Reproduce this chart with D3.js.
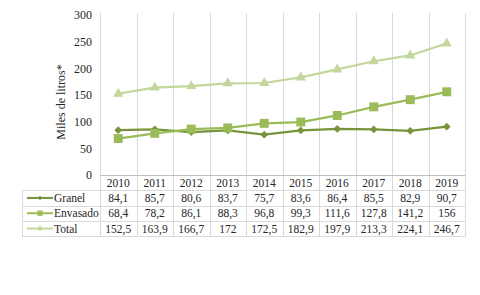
<!DOCTYPE html>
<html>
<head>
<meta charset="utf-8">
<script src="https://cdn.jsdelivr.net/npm/d3@7"></script>
<style>
  body { margin: 0; background: #fff; }
</style>
</head>
<body>
<div id="chart"></div>
<script>
const years = ["2010", "2011", "2012", "2013", "2014", "2015", "2016", "2017", "2018", "2019"];
const granel = [84.1, 85.7, 80.6, 83.7, 75.7, 83.6, 86.4, 85.5, 82.9, 90.7];
const envasado = [68.4, 78.2, 86.1, 88.3, 96.8, 99.3, 111.6, 127.8, 141.2, 156];
const total = [152.5, 163.9, 166.7, 172, 172.5, 182.9, 197.9, 213.3, 224.1, 246.7];
const yTicks = [0, 50, 100, 150, 200, 250, 300];

const width = 480, height = 295;
const plot = { left: 100, right: 465, top: 15, bottom: 175 };
const table = { left: 22, rowH: 15.3 };
const serif = "Liberation Serif";

const series = [
    { name: "Granel", values: granel, color: "#77933c", symbol: d3.symbolSquare, size: 30, rotate: 45 },
    { name: "Envasado", values: envasado, color: "#9bbb59", symbol: d3.symbolSquare, size: 80, rotate: 0 },
    { name: "Total", values: total, color: "#c3d69b", symbol: d3.symbolTriangle, size: 46, rotate: 0 }
];

const svg = d3.select("#chart")
    .append("svg")
    .attr("width", width)
    .attr("height", height)
    .style("display", "block");

const x = d3.scaleBand()
    .domain(years)
    .range([plot.left, plot.right])
    .padding(0);

const y = d3.scaleLinear()
    .domain([0, 300])
    .range([plot.bottom, plot.top]);

const tableBottom = plot.bottom + table.rowH * 4;
const gridColor = "#d9d9d9";

// Vertical gridlines through plot and table
const bounds = years.map(d => x(d)).concat([plot.right]);
svg.selectAll(".vgrid")
    .data(bounds)
    .join("line")
    .attr("class", "vgrid")
    .attr("x1", d => Math.round(d) + 0.5)
    .attr("x2", d => Math.round(d) + 0.5)
    .attr("y1", plot.top - 2)
    .attr("y2", tableBottom)
    .attr("stroke", gridColor)
    .attr("stroke-width", 1);

// Table horizontal lines
const rowLines = [0, 1, 2, 3, 4].map(i => plot.bottom + i * table.rowH);
svg.selectAll(".hline")
    .data(rowLines)
    .join("line")
    .attr("class", "hline")
    .attr("x1", (d, i) => i === 0 ? plot.left : table.left)
    .attr("x2", plot.right)
    .attr("y1", d => Math.round(d) + 0.5)
    .attr("y2", d => Math.round(d) + 0.5)
    .attr("stroke", (d, i) => i === 0 ? "#bfbfbf" : gridColor);

svg.append("line")
    .attr("x1", table.left + 0.5)
    .attr("x2", table.left + 0.5)
    .attr("y1", plot.bottom + table.rowH)
    .attr("y2", tableBottom)
    .attr("stroke", gridColor);

// Y axis labels
svg.selectAll(".ytick")
    .data(yTicks)
    .join("text")
    .attr("class", "ytick")
    .attr("x", plot.left - 8)
    .attr("y", d => y(d))
    .attr("dy", "0.35em")
    .attr("text-anchor", "end")
    .attr("font-family", serif)
    .attr("font-size", 12)
    .attr("fill", "#262626")
    .text(d => d);

svg.append("text")
    .attr("transform", `translate(61,102) rotate(-90)`)
    .attr("text-anchor", "middle")
    .attr("dy", "0.35em")
    .attr("font-family", serif)
    .attr("font-size", 12)
    .attr("fill", "#262626")
    .text("Miles de litros*");

// Lines and markers
const line = d3.line()
    .x((d, i) => x(years[i]) + x.bandwidth() / 2)
    .y(d => y(d));

series.forEach(s => {
    svg.append("path")
        .datum(s.values)
        .attr("d", line)
        .attr("fill", "none")
        .attr("stroke", s.color)
        .attr("stroke-width", 2.25);

    svg.selectAll(null)
        .data(s.values)
        .join("path")
        .attr("transform", (d, i) => `translate(${x(years[i]) + x.bandwidth() / 2},${y(d)}) rotate(${s.rotate})`)
        .attr("d", d3.symbol().type(s.symbol).size(s.size))
        .attr("fill", s.color);
});

// Table: header row with years
const fmt = v => String(v).replace(".", ",");
svg.selectAll(".year")
    .data(years)
    .join("text")
    .attr("class", "year")
    .attr("x", d => x(d) + x.bandwidth() / 2)
    .attr("y", plot.bottom + table.rowH / 2)
    .attr("dy", "0.35em")
    .attr("text-anchor", "middle")
    .attr("font-family", serif)
    .attr("font-size", 11.5)
    .attr("fill", "#262626")
    .text(d => d);

series.forEach((s, r) => {
    const cy = plot.bottom + table.rowH * (r + 1) + table.rowH / 2;
    const row = svg.append("g");

    // legend key
    row.append("line")
        .attr("x1", 27).attr("x2", 53)
        .attr("y1", cy).attr("y2", cy)
        .attr("stroke", s.color)
        .attr("stroke-width", 2);
    row.append("path")
        .attr("transform", `translate(40,${cy}) rotate(${s.rotate})`)
        .attr("d", d3.symbol().type(s.symbol).size(s.size * 0.35))
        .attr("fill", s.color);
    row.append("text")
        .attr("x", 54)
        .attr("y", cy)
        .attr("dy", "0.35em")
        .attr("font-family", serif)
        .attr("font-size", 11.5)
        .attr("fill", "#262626")
        .text(s.name);

    row.selectAll(".cell")
        .data(s.values)
        .join("text")
        .attr("class", "cell")
        .attr("x", (d, i) => x(years[i]) + x.bandwidth() / 2)
        .attr("y", cy)
        .attr("dy", "0.35em")
        .attr("text-anchor", "middle")
        .attr("font-family", serif)
        .attr("font-size", 11.5)
        .attr("fill", "#262626")
        .text(d => fmt(d));
});
</script>
</body>
</html>
